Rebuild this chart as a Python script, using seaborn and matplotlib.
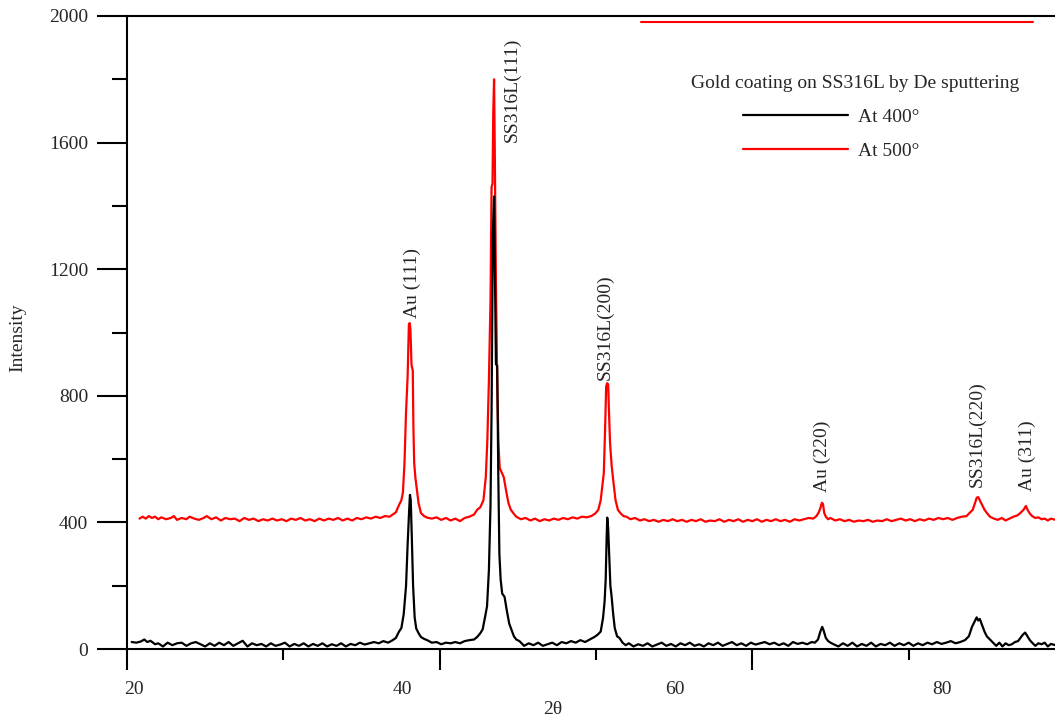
import pandas as pd
import matplotlib
matplotlib.use("Agg")
import matplotlib.pyplot as plt
import matplotlib.transforms as mtransforms
from matplotlib.lines import Line2D
import seaborn as sns

# XRD pattern, gold coating on SS316L
two_theta_400 = [20.3, 20.6, 20.9, 21.1, 21.3, 21.5, 21.8, 22.0, 22.3, 22.6, 22.9, 23.2, 23.5, 23.8,
                 24.1, 24.4, 24.7, 25.0, 25.3, 25.6, 25.9, 26.2, 26.5, 26.8, 27.1, 27.4, 27.7, 28.0,
                 28.3, 28.6, 28.9, 29.2, 29.5, 29.8, 30.1, 30.4, 30.7, 31.0, 31.3, 31.6, 31.9, 32.2,
                 32.5, 32.8, 33.1, 33.4, 33.7, 34.0, 34.3, 34.6, 34.9, 35.2, 35.5, 35.8, 36.1, 36.4,
                 36.7, 37.0, 37.2, 37.4, 37.55, 37.7, 37.85, 37.95, 38.05, 38.1, 38.15, 38.22, 38.3,
                 38.4, 38.5, 38.65, 38.8, 39.0, 39.2, 39.5, 39.8, 40.1, 40.4, 40.7, 41.0, 41.3, 41.6,
                 41.9, 42.2, 42.4, 42.6, 42.75, 42.9, 43.03, 43.15, 43.25, 43.32, 43.4, 43.48, 43.54,
                 43.6, 43.68, 43.75, 43.82, 43.9, 44.0, 44.15, 44.3, 44.45, 44.6, 44.75, 44.9, 45.1,
                 45.4, 45.7, 46.0, 46.3, 46.6, 46.9, 47.2, 47.5, 47.8, 48.1, 48.4, 48.7, 49.0, 49.3,
                 49.6, 49.9, 50.1, 50.3, 50.45, 50.55, 50.62, 50.68, 50.72, 50.78, 50.84, 50.92, 51.0,
                 51.1, 51.2, 51.35, 51.5, 51.7, 51.9, 52.1, 52.4, 52.7, 53.0, 53.3, 53.6, 53.9, 54.2,
                 54.5, 54.8, 55.1, 55.4, 55.7, 56.0, 56.3, 56.6, 56.9, 57.2, 57.5, 57.8, 58.1, 58.4,
                 58.7, 59.0, 59.3, 59.6, 59.9, 60.2, 60.5, 60.8, 61.1, 61.4, 61.7, 62.0, 62.3, 62.6,
                 62.9, 63.2, 63.5, 63.8, 64.0, 64.2, 64.35, 64.47, 64.55, 64.7, 64.85, 65.0, 65.2,
                 65.5, 65.8, 66.1, 66.4, 66.7, 67.0, 67.3, 67.6, 67.9, 68.2, 68.5, 68.8, 69.1, 69.4,
                 69.7, 70.0, 70.3, 70.6, 70.9, 71.2, 71.5, 71.8, 72.1, 72.4, 72.7, 73.0, 73.3, 73.6,
                 73.85, 74.05, 74.2, 74.35, 74.45, 74.55, 74.7, 74.85, 75.0, 75.2, 75.4, 75.6, 75.8,
                 76.0, 76.2, 76.4, 76.6, 76.8, 77.0, 77.15, 77.3, 77.45, 77.6, 77.75, 77.9, 78.1,
                 78.3, 78.5, 78.7, 78.9, 79.1, 79.4, 79.7]
intensity_400 = [22, 20, 24, 30, 22, 26, 15, 18, 8, 20, 12, 18, 20, 10,
                 18, 22, 15, 8, 18, 10, 20, 12, 22, 10, 18, 26, 8, 18,
                 12, 16, 8, 18, 10, 14, 20, 8, 16, 10, 18, 8, 16, 10,
                 18, 8, 15, 10, 18, 8, 16, 12, 20, 14, 18, 22, 18, 25,
                 20, 28, 35, 55, 66, 110, 200, 330, 440, 487, 470, 350, 200,
                 100, 65, 50, 38, 32, 28, 20, 22, 15, 20, 18, 22, 18, 25,
                 28, 30, 38, 50, 62, 100, 135, 250, 450, 750, 1310, 1430, 1150,
                 900, 895, 550, 300, 220, 175, 165, 120, 80, 60, 40, 30, 25,
                 10, 18, 12, 20, 10, 15, 20, 12, 22, 18, 25, 20, 28, 22,
                 30, 38, 45, 55, 98, 150, 220, 350, 415, 380, 300, 200, 165,
                 110, 66, 40, 35, 20, 12, 18, 8, 15, 10, 18, 8, 14, 20,
                 10, 16, 8, 18, 12, 20, 10, 15, 8, 18, 12, 20, 10, 16,
                 22, 12, 18, 10, 20, 14, 18, 22, 15, 20, 12, 18, 10, 22,
                 16, 20, 15, 22, 20, 30, 55, 70, 60, 35, 25, 20, 15,
                 8, 18, 10, 20, 8, 16, 10, 20, 8, 16, 12, 20, 10, 18,
                 12, 20, 10, 18, 12, 20, 15, 22, 16, 20, 25, 18, 22, 28,
                 40, 70, 85, 100, 90, 95, 75, 55, 40, 30, 20, 10, 20,
                 8, 18, 12, 15, 22, 25, 35, 45, 52, 40, 28, 20, 10,
                 18, 15, 20, 8, 16, 12, 18]

two_theta_500 = [20.8, 21.0, 21.2, 21.4, 21.6, 21.8, 22.0, 22.2, 22.5, 22.8, 23.0, 23.2, 23.5, 23.8,
                 24.0, 24.3, 24.6, 24.9, 25.1, 25.4, 25.7, 26.0, 26.3, 26.6, 26.9, 27.2, 27.5, 27.8,
                 28.1, 28.4, 28.7, 29.0, 29.3, 29.6, 29.9, 30.2, 30.5, 30.8, 31.1, 31.4, 31.7, 32.0,
                 32.3, 32.6, 32.9, 33.2, 33.5, 33.8, 34.1, 34.4, 34.7, 35.0, 35.3, 35.6, 35.9, 36.2,
                 36.5, 36.8, 37.0, 37.2, 37.4, 37.55, 37.65, 37.75, 37.85, 37.95, 38.03, 38.08, 38.13,
                 38.2, 38.28, 38.32, 38.37, 38.45, 38.55, 38.65, 38.8, 39.0, 39.2, 39.5, 39.8, 40.1,
                 40.4, 40.7, 41.0, 41.3, 41.6, 41.9, 42.2, 42.4, 42.6, 42.8, 42.95, 43.05, 43.15,
                 43.25, 43.32, 43.38, 43.43, 43.48, 43.53, 43.6, 43.68, 43.76, 43.84, 43.95, 44.1,
                 44.25, 44.4, 44.55, 44.7, 44.9, 45.2, 45.5, 45.8, 46.1, 46.4, 46.7, 47.0, 47.3,
                 47.6, 47.9, 48.2, 48.5, 48.8, 49.1, 49.4, 49.7, 49.95, 50.15, 50.3, 50.42, 50.5,
                 50.58, 50.65, 50.72, 50.78, 50.82, 50.9, 51.0, 51.1, 51.25, 51.4, 51.55, 51.75,
                 51.95, 52.2, 52.5, 52.8, 53.1, 53.4, 53.7, 54.0, 54.3, 54.6, 54.9, 55.2, 55.5,
                 55.8, 56.1, 56.4, 56.7, 57.0, 57.3, 57.6, 57.9, 58.2, 58.5, 58.8, 59.1, 59.4,
                 59.7, 60.0, 60.3, 60.6, 60.9, 61.2, 61.5, 61.8, 62.1, 62.4, 62.7, 63.0, 63.3,
                 63.6, 63.9, 64.1, 64.25, 64.35, 64.45, 64.52, 64.6, 64.7, 64.85, 65.0, 65.3, 65.6,
                 65.9, 66.2, 66.5, 66.8, 67.1, 67.4, 67.7, 68.0, 68.3, 68.6, 68.9, 69.2, 69.5,
                 69.8, 70.1, 70.4, 70.7, 71.0, 71.3, 71.6, 71.9, 72.2, 72.5, 72.8, 73.1, 73.4,
                 73.7, 73.9, 74.1, 74.25, 74.35, 74.45, 74.55, 74.7, 74.85, 75.0, 75.2, 75.45,
                 75.7, 75.95, 76.2, 76.45, 76.7, 76.95, 77.15, 77.35, 77.5, 77.6, 77.75, 77.9,
                 78.1, 78.3, 78.5, 78.7, 78.9, 79.1, 79.4, 79.7]
intensity_500 = [412, 418, 412, 420, 414, 418, 410, 416, 410, 414, 420, 408, 414, 410,
                 418, 412, 408, 414, 420, 410, 416, 406, 414, 410, 412, 404, 414, 408,
                 412, 404, 410, 406, 412, 406, 410, 404, 412, 408, 414, 406, 410, 404,
                 412, 406, 412, 408, 414, 406, 412, 406, 414, 410, 416, 412, 418, 414,
                 420, 418, 425, 432, 455, 470, 495, 588, 750, 860, 1025, 1030, 1010,
                 897, 880, 700, 588, 540, 500, 461, 430, 420, 415, 412, 416, 408,
                 414, 406, 412, 404, 414, 418, 425, 440, 448, 470, 543, 660, 850,
                 1100, 1460, 1470, 1700, 1800, 1550, 1150, 850, 650, 572, 560, 543,
                 500, 461, 440, 430, 418, 410, 414, 406, 412, 404, 410, 406, 412,
                 408, 414, 410, 416, 412, 418, 416, 420, 428, 440, 470, 520, 556,
                 692, 830, 840, 835, 765, 650, 580, 534, 470, 440, 430, 420,
                 418, 410, 414, 406, 410, 404, 408, 402, 408, 404, 410, 404, 408,
                 402, 408, 404, 410, 402, 406, 404, 410, 402, 408, 404, 410, 402,
                 408, 404, 410, 402, 408, 404, 410, 404, 408, 402, 410, 406, 410,
                 414, 412, 420, 432, 445, 462, 458, 430, 418, 410, 414, 406, 410,
                 404, 408, 402, 406, 404, 408, 402, 406, 404, 410, 404, 408, 412,
                 406, 410, 404, 410, 406, 412, 408, 414, 410, 414, 408, 414, 418,
                 420, 430, 440, 462, 478, 480, 470, 455, 440, 430, 418, 412,
                 408, 414, 406, 412, 418, 422, 430, 440, 452, 440, 428, 420,
                 414, 416, 410, 412, 406, 412, 408, 410]

sample_names = ["At 400°", "At 500°"]
line_colors = ["black", "red"]

peak_labels = ["Au (111)", "SS316L(111)", "SS316L(200)", "Au (220)", "SS316L(220)", "Au (311)"]
peak_label_x = [38.23, 44.63, 50.58, 64.47, 74.38, 77.58]
peak_label_y = [1046, 1602, 850, 496, 512, 499]

xtick_text = ["20", "40", "60", "80"]
xtick_text_pos = [20.45, 37.6, 55.06, 72.15]

df = pd.concat([
    pd.DataFrame({"two_theta": two_theta_400, "intensity": intensity_400, "sample": sample_names[0]}),
    pd.DataFrame({"two_theta": two_theta_500, "intensity": intensity_500, "sample": sample_names[1]}),
])

sns.set_theme(style="ticks")
plt.rcParams["font.family"] = ["Liberation Serif", "DejaVu Serif"]
plt.rcParams["font.size"] = 14

fig = plt.figure(figsize=(10.55, 7.19), dpi=100)
ax = fig.add_axes([127 / 1055, 1 - 649 / 719, (1065 - 127) / 1055, (649 - 16) / 719])

palette = dict(zip(sample_names, line_colors))
sns.lineplot(data=df, x="two_theta", y="intensity", hue="sample",
             hue_order=[sample_names[1], sample_names[0]], palette=palette,
             estimator=None, sort=False, linewidth=1.6, ax=ax, legend=False)

ax.set_xlim(20, 80)
ax.set_ylim(0, 2000)
ax.set_xlabel("")
ax.set_ylabel("")
for side in ["left", "bottom", "top", "right"]:
    ax.spines[side].set_linewidth(1.5)
    ax.spines[side].set_color("black")

ax.set_xticks([20, 40, 60, 80])
ax.set_xticks([30, 50, 70], minor=True)
ax.set_xticklabels([])
ax.set_yticks(range(0, 2001, 400))
ax.set_yticks(range(200, 2000, 400), minor=True)
ax.tick_params(axis="x", which="major", length=15, width=1.5, direction="out", color="black")
ax.tick_params(axis="x", which="minor", length=8, width=1.5, direction="out", color="black")
ax.tick_params(axis="y", which="major", length=21.5, width=1.5, direction="out",
               labelsize=14, pad=6.5, color="black")
ax.tick_params(axis="y", which="minor", length=10.5, width=1.5, direction="out", color="black")

# the x tick numbers sit a little off the tick marks in the original
trans = mtransforms.blended_transform_factory(ax.transData, fig.transFigure)
for lab, xp in zip(xtick_text, xtick_text_pos):
    ax.text(xp, 1 - 689 / 719, lab, transform=trans, ha="center", va="center",
            fontsize=14, clip_on=False)

fig.text(553 / 1055, 1 - 709 / 719, "2θ", ha="center", va="center", fontsize=14)
fig.text(18 / 1055, 1 - 338 / 719, "Intensity", ha="center", va="center",
         rotation=90, fontsize=14)

for lab, xp, yp in zip(peak_labels, peak_label_x, peak_label_y):
    ax.text(xp, yp, lab, rotation=90, ha="center", va="bottom", fontsize=14)

# legend
handles = [Line2D([], [], color=c, lw=1.6) for c in line_colors]
fig.legend(handles, sample_names, loc="center left",
           bbox_to_anchor=(743 / 1055, 1 - 134 / 719), frameon=False,
           handlelength=5.4, handletextpad=0.5, labelspacing=0.85,
           borderpad=0, borderaxespad=0, fontsize=14)
fig.text(855 / 1055, 1 - 84 / 719, "Gold coating on SS316L by De sputtering",
         ha="center", va="center", fontsize=14)
fig.add_artist(Line2D([641 / 1055, 1033 / 1055], [1 - 22 / 719, 1 - 22 / 719],
                      transform=fig.transFigure, color="red", lw=1.5))

fig.savefig("out.png", dpi=100)
